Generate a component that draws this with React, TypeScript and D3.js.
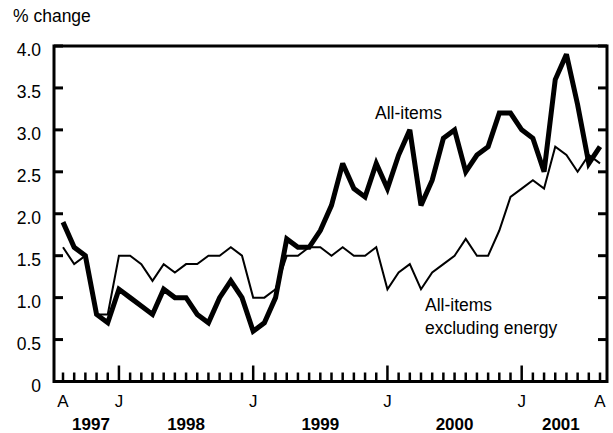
import React from "react";
import * as d3 from "d3";

// monthly, Aug 1997 .. Aug 2001
const months: string[] = d3
  .timeMonths(new Date(1997, 7, 1), new Date(2001, 8, 1))
  .map((d) => d3.timeFormat("%Y-%m")(d));

const allItems: number[] = [
  1.9, 1.6, 1.5, 0.8, 0.7, 1.1, 1.0, 0.9, 0.8, 1.1, 1.0, 1.0, 0.8, 0.7, 1.0, 1.2, 1.0,
  0.6, 0.7, 1.0, 1.7, 1.6, 1.6, 1.8, 2.1, 2.6, 2.3, 2.2, 2.6, 2.3, 2.7, 3.0,
  2.1, 2.4, 2.9, 3.0, 2.5, 2.7, 2.8, 3.2, 3.2, 3.0, 2.9, 2.5, 3.6, 3.9, 3.3, 2.6, 2.8,
];

const exEnergy: number[] = [
  1.6, 1.4, 1.5, 0.8, 0.8, 1.5, 1.5, 1.4, 1.2, 1.4, 1.3, 1.4, 1.4, 1.5, 1.5, 1.6, 1.5,
  1.0, 1.0, 1.1, 1.5, 1.5, 1.6, 1.6, 1.5, 1.6, 1.5, 1.5, 1.6, 1.1, 1.3, 1.4,
  1.1, 1.3, 1.4, 1.5, 1.7, 1.5, 1.5, 1.8, 2.2, 2.3, 2.4, 2.3, 2.8, 2.7, 2.5, 2.7, 2.6,
];

const yTicks: number[] = [0, 0.5, 1, 1.5, 2, 2.5, 3, 3.5, 4];
const monthLabels: { month: string; text: string }[] = [
  { month: "1997-08", text: "A" },
  { month: "1998-01", text: "J" },
  { month: "1999-01", text: "J" },
  { month: "2000-01", text: "J" },
  { month: "2001-01", text: "J" },
  { month: "2001-08", text: "A" },
];
const years: string[] = ["1997", "1998", "1999", "2000", "2001"];

const W = 613;
const H = 433;
const left = 54;
const right = 607;
const top = 46;
const bottom = 381.5;
const font = "'Liberation Sans', Arial, sans-serif";

export default function App() {
  const x = d3
    .scalePoint<string>()
    .domain(months)
    .range([63, 600]);
  const y = d3.scaleLinear().domain([0, 4]).range([bottom, top]);

  const line = d3
    .line<number>()
    .x((_, i) => x(months[i]) as number)
    .y((d) => y(d));

  // year label sits in the middle of its segment between the labelled ticks
  const yearPos = years.map((_, i) => {
    const a = x(monthLabels[i].month) as number;
    const b = x(monthLabels[i + 1].month) as number;
    return (a + b) / 2;
  });

  return (
    <svg
      width={W}
      height={H}
      style={{ position: "absolute", left: 0, top: 0, background: "#fff" }}
      fontFamily={font}
    >
      <text x={13} y={22} fontSize={17.5} fill="#000">
        % change
      </text>

      {/* frame */}
      <rect
        x={left}
        y={top}
        width={right - left}
        height={bottom - top}
        fill="none"
        stroke="#000"
        strokeWidth={3}
      />

      {/* y ticks, both sides, inward */}
      {yTicks.map((t) => (
        <g key={t}>
          <line x1={left} x2={left + 9} y1={y(t)} y2={y(t)} stroke="#000" strokeWidth={3} />
          <line x1={right - 9} x2={right} y1={y(t)} y2={y(t)} stroke="#000" strokeWidth={3} />
          <text
            x={41}
            y={y(t) + 10}
            textAnchor="end"
            fontSize={17.5}
            fill="#000"
          >
            {t === 0 ? "0" : t.toFixed(1)}
          </text>
        </g>
      ))}

      {/* month ticks */}
      {months.map((m) => {
        const major = m.endsWith("-01");
        return (
          <line
            key={m}
            x1={x(m)}
            x2={x(m)}
            y1={bottom}
            y2={bottom - (major ? 16 : 9)}
            stroke="#000"
            strokeWidth={2.5}
          />
        );
      })}

      {monthLabels.map((l) => (
        <text
          key={l.month}
          x={x(l.month)}
          y={407}
          textAnchor="middle"
          fontSize={17}
          fill="#000"
        >
          {l.text}
        </text>
      ))}

      {years.map((yr, i) => (
        <text
          key={yr}
          x={yearPos[i]}
          y={430}
          textAnchor="middle"
          fontSize={17}
          fontWeight="bold"
          fill="#000"
        >
          {yr}
        </text>
      ))}

      <path
        d={line(exEnergy) || ""}
        fill="none"
        stroke="#000"
        strokeWidth={2}
        strokeLinejoin="miter"
      />
      <path
        d={line(allItems) || ""}
        fill="none"
        stroke="#000"
        strokeWidth={5}
        strokeLinejoin="miter"
        strokeMiterlimit={3}
      />

      <text x={375} y={119} fontSize={17.5} fill="#000">
        All-items
      </text>
      <text x={425} y={311} fontSize={17.5} fill="#000">
        All-items
      </text>
      <text x={425} y={334} fontSize={17.5} fill="#000">
        excluding energy
      </text>
    </svg>
  );
}
